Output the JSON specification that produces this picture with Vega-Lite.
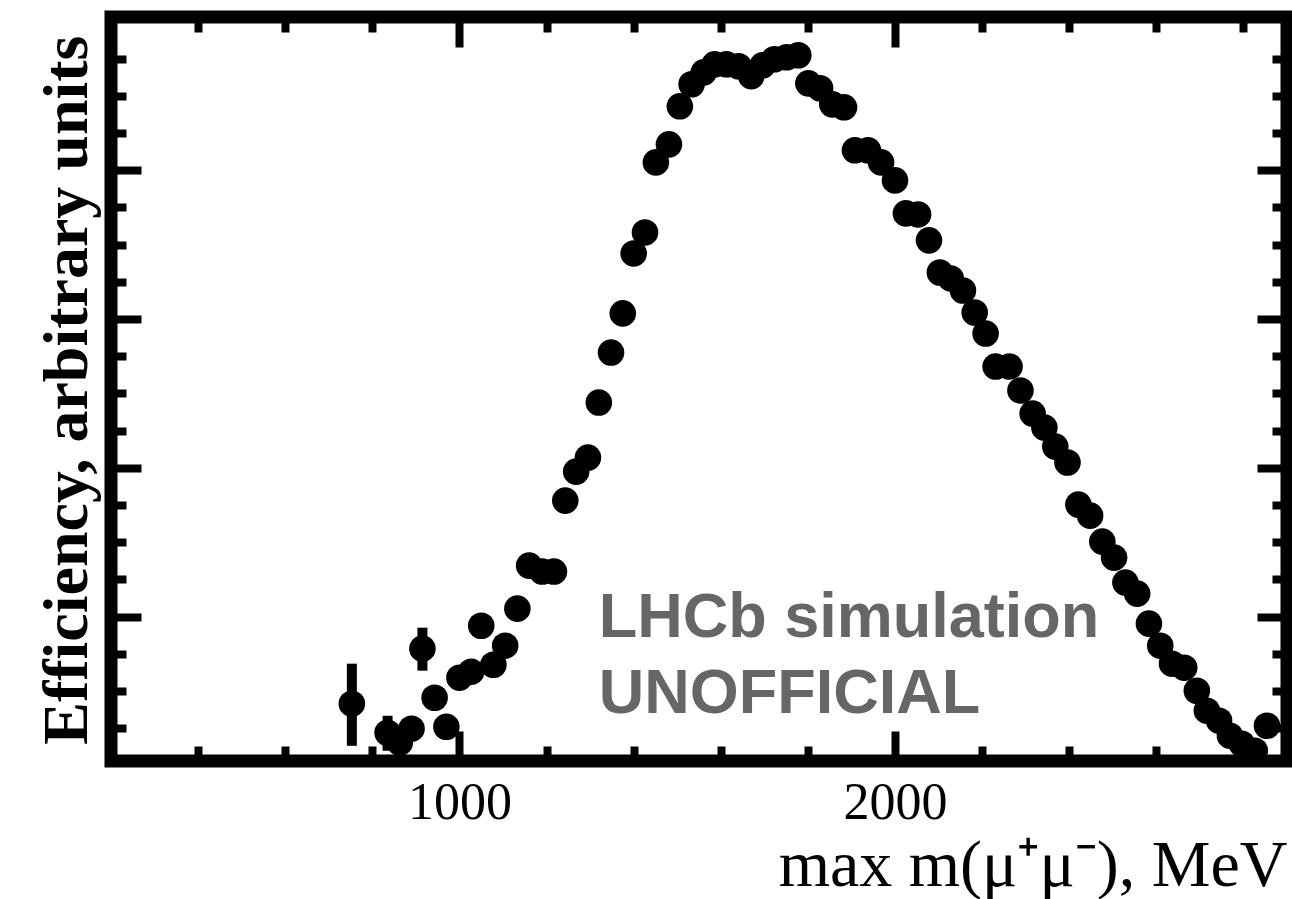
{
  "$schema": "https://vega.github.io/schema/vega-lite/v6.json",
  "width": 1176,
  "height": 744,
  "autosize": "none",
  "padding": {"left": 111, "top": 17, "right": 5, "bottom": 138},
  "background": "white",
  "config": {
    "view": {"stroke": "black", "strokeWidth": 13},
    "axis": {
      "domain": false,
      "grid": false,
      "tickColor": "black",
      "tickWidth": 8,
      "labelColor": "black",
      "titleColor": "black"
    }
  },
  "datasets": {
    "pts": [
      {"m": 753, "eff": 0.415}, {"m": 835, "eff": 0.220}, {"m": 863, "eff": 0.153}, {"m": 890, "eff": 0.247},
      {"m": 915, "eff": 0.785}, {"m": 943, "eff": 0.455}, {"m": 970, "eff": 0.260}, {"m": 1000, "eff": 0.590},
      {"m": 1027, "eff": 0.630}, {"m": 1050, "eff": 0.939}, {"m": 1078, "eff": 0.677}, {"m": 1105, "eff": 0.805},
      {"m": 1133, "eff": 1.054}, {"m": 1160, "eff": 1.343}, {"m": 1190, "eff": 1.303}, {"m": 1217, "eff": 1.303},
      {"m": 1243, "eff": 1.780}, {"m": 1268, "eff": 1.975}, {"m": 1295, "eff": 2.069}, {"m": 1320, "eff": 2.439},
      {"m": 1348, "eff": 2.775}, {"m": 1375, "eff": 3.038}, {"m": 1400, "eff": 3.441}, {"m": 1426, "eff": 3.582},
      {"m": 1451, "eff": 4.053}, {"m": 1481, "eff": 4.174}, {"m": 1506, "eff": 4.430}, {"m": 1533, "eff": 4.578},
      {"m": 1561, "eff": 4.658}, {"m": 1586, "eff": 4.712}, {"m": 1613, "eff": 4.712}, {"m": 1641, "eff": 4.699},
      {"m": 1670, "eff": 4.632}, {"m": 1696, "eff": 4.705}, {"m": 1723, "eff": 4.746}, {"m": 1751, "eff": 4.759},
      {"m": 1778, "eff": 4.773}, {"m": 1801, "eff": 4.584}, {"m": 1828, "eff": 4.551}, {"m": 1856, "eff": 4.443},
      {"m": 1883, "eff": 4.423}, {"m": 1908, "eff": 4.134}, {"m": 1938, "eff": 4.134}, {"m": 1968, "eff": 4.053},
      {"m": 2000, "eff": 3.932}, {"m": 2025, "eff": 3.710}, {"m": 2053, "eff": 3.703}, {"m": 2078, "eff": 3.529},
      {"m": 2103, "eff": 3.313}, {"m": 2128, "eff": 3.273}, {"m": 2156, "eff": 3.192}, {"m": 2183, "eff": 3.044},
      {"m": 2208, "eff": 2.903}, {"m": 2231, "eff": 2.681}, {"m": 2263, "eff": 2.681}, {"m": 2288, "eff": 2.520},
      {"m": 2316, "eff": 2.365}, {"m": 2343, "eff": 2.271}, {"m": 2368, "eff": 2.143}, {"m": 2396, "eff": 2.036},
      {"m": 2421, "eff": 1.753}, {"m": 2448, "eff": 1.679}, {"m": 2476, "eff": 1.504}, {"m": 2503, "eff": 1.397},
      {"m": 2529, "eff": 1.229}, {"m": 2556, "eff": 1.155}, {"m": 2583, "eff": 0.953}, {"m": 2609, "eff": 0.805},
      {"m": 2636, "eff": 0.684}, {"m": 2664, "eff": 0.657}, {"m": 2693, "eff": 0.502}, {"m": 2716, "eff": 0.368},
      {"m": 2744, "eff": 0.301}, {"m": 2769, "eff": 0.200}, {"m": 2796, "eff": 0.146}, {"m": 2826, "eff": 0.099},
      {"m": 2854, "eff": 0.267}
    ],
    "err": [
      {"m": 753, "lo": 0.132, "hi": 0.684},
      {"m": 835, "lo": 0.099, "hi": 0.334},
      {"m": 915, "lo": 0.637, "hi": 0.926}
    ],
    "txt": [
      {"m": 1320, "eff": 0.866, "label": "LHCb simulation"},
      {"m": 1320, "eff": 0.355, "label": "UNOFFICIAL"}
    ]
  },
  "layer": [
    {
      "data": {"name": "err"},
      "mark": {"type": "rule", "color": "black", "strokeWidth": 10},
      "encoding": {
        "x": {
          "field": "m", "type": "quantitative",
          "scale": {"domain": [200, 2900], "nice": false, "zero": false},
          "axis": {
            "orient": "top",
            "values": [400, 600, 800, 1000, 1200, 1400, 1600, 1800, 2000, 2200, 2400, 2600, 2800],
            "tickSize": {"condition": {"test": "datum.value % 1000 === 0", "value": -30}, "value": -15},
            "labels": false,
            "title": null
          }
        },
        "y": {
          "field": "lo", "type": "quantitative",
          "scale": {"domain": [0.03, 5.03], "nice": false, "zero": false},
          "axis": {
            "orient": "right",
            "values": [0.25, 0.5, 0.75, 1, 1.25, 1.5, 1.75, 2, 2.25, 2.5, 2.75, 3, 3.25, 3.5, 3.75, 4, 4.25, 4.5, 4.75],
            "tickSize": {"condition": {"test": "datum.value % 1 === 0", "value": -30}, "value": -15},
            "labels": false,
            "title": null
          }
        },
        "y2": {"field": "hi"}
      }
    },
    {
      "data": {"name": "pts"},
      "mark": {"type": "circle", "color": "black", "opacity": 1, "size": 707},
      "encoding": {
        "x": {
          "field": "m", "type": "quantitative",
          "scale": {"domain": [200, 2900], "nice": false, "zero": false},
          "axis": {
            "orient": "bottom",
            "values": [400, 600, 800, 1000, 1200, 1400, 1600, 1800, 2000, 2200, 2400, 2600, 2800],
            "tickSize": {"condition": {"test": "datum.value % 1000 === 0", "value": -30}, "value": -15},
            "labelExpr": "datum.value % 1000 === 0 ? '' + datum.value : ''",
            "labelFont": "Liberation Serif",
            "labelFontSize": 52,
            "labelBaseline": "alphabetic",
            "labelPadding": 87,
            "labelFlush": false,
            "labelOverlap": false,
            "title": "max m(μ⁺μ⁻), MeV",
            "titleFont": "Liberation Serif",
            "titleFontSize": 66,
            "titleFontWeight": "normal",
            "titleAnchor": "end",
            "titleAlign": "right",
            "titleBaseline": "alphabetic",
            "titleY": 124
          }
        },
        "y": {
          "field": "eff", "type": "quantitative",
          "scale": {"domain": [0.03, 5.03], "nice": false, "zero": false},
          "axis": {
            "orient": "left",
            "values": [0.25, 0.5, 0.75, 1, 1.25, 1.5, 1.75, 2, 2.25, 2.5, 2.75, 3, 3.25, 3.5, 3.75, 4, 4.25, 4.5, 4.75],
            "tickSize": {"condition": {"test": "datum.value % 1 === 0", "value": -30}, "value": -15},
            "labels": false,
            "title": "Efficiency, arbitrary units",
            "titleFont": "Liberation Serif",
            "titleFontSize": 64,
            "titleFontWeight": "bold",
            "titleAnchor": "end",
            "titleAlign": "right",
            "titleBaseline": "alphabetic",
            "titleX": -25,
            "titleY": 18
          }
        }
      }
    },
    {
      "data": {"name": "txt"},
      "mark": {"type": "text", "font": "Liberation Sans", "fontWeight": "bold", "fontSize": 63, "color": "#666666", "align": "left", "baseline": "alphabetic"},
      "encoding": {
        "x": {"field": "m", "type": "quantitative", "axis": null},
        "y": {"field": "eff", "type": "quantitative", "axis": null},
        "text": {"field": "label"}
      }
    }
  ],
  "resolve": {"axis": {"x": "independent", "y": "independent"}}
}
